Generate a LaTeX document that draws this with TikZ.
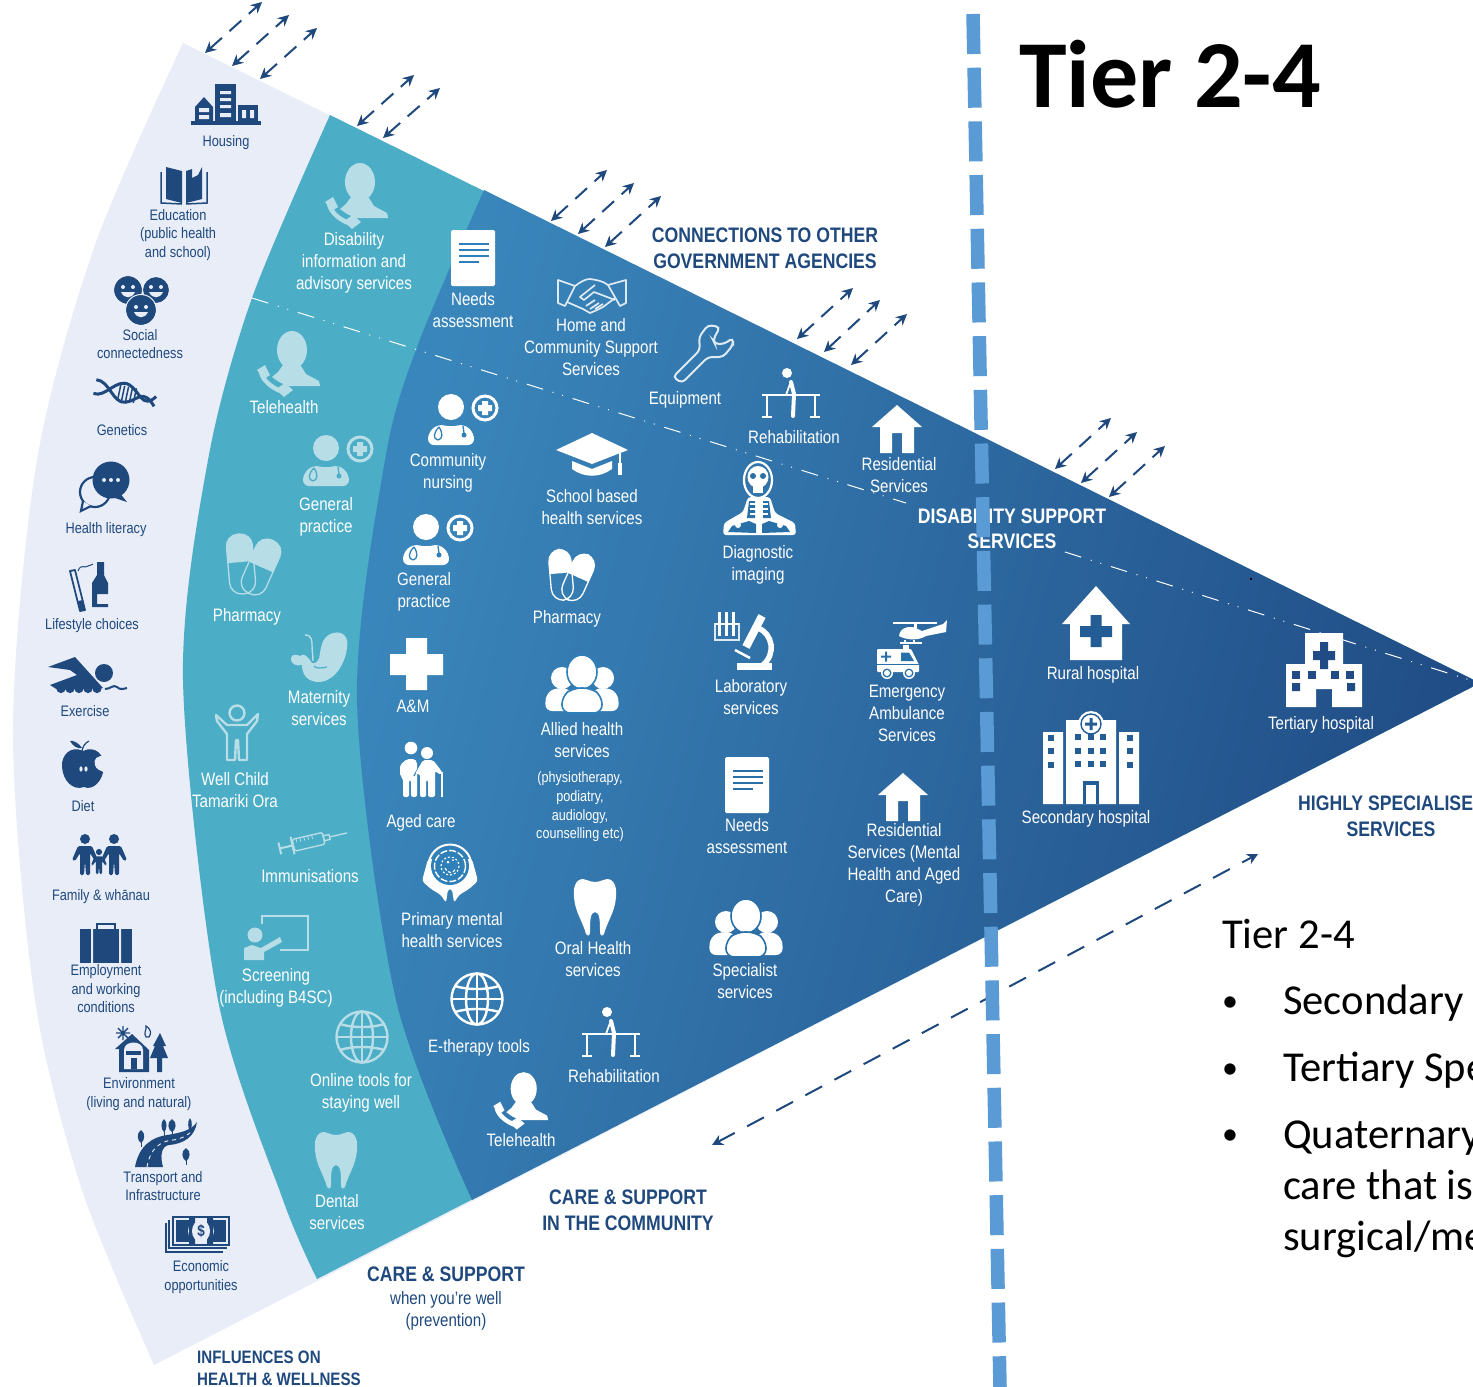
\documentclass[tikz,border=0pt]{standalone}
\usepackage{fontspec}
\usetikzlibrary{arrows.meta}
\newfontfamily\nar[FakeStretch=0.84]{Liberation Sans}
\newfontfamily\carl{Carlito}
\definecolor{navy}{HTML}{1F497D}
\definecolor{lite}{HTML}{E8EDF8}
\definecolor{teal}{HTML}{4BADC6}
\definecolor{pale}{HTML}{B7DDE7}
\definecolor{blA}{HTML}{2F80B8}
\definecolor{blB}{HTML}{2A70A8}
\definecolor{blC}{HTML}{245C95}
\definecolor{blD}{HTML}{204B84}
\definecolor{tierline}{HTML}{5B9BD5}
\colorlet{softw}{white!85!blB}
\tikzset{
 wt/.style={inner sep=0pt,align=center,text=white,font=\nar\fontsize{18}{22}\selectfont},
 wts/.style={inner sep=0pt,align=center,text=white,font=\nar\fontsize{15}{18.6}\selectfont},
 wtb/.style={inner sep=0pt,align=center,text=white,font=\nar\bfseries\fontsize{21}{25}\selectfont},
 nv/.style={inner sep=0pt,align=center,text=navy,font=\nar\fontsize{15.2}{18.5}\selectfont},
 nvm/.style={inner sep=0pt,align=center,text=navy,font=\nar\fontsize{18}{22}\selectfont},
 hd/.style={inner sep=0pt,align=center,text=navy,font=\nar\bfseries\fontsize{21}{26}\selectfont},
 hds/.style={inner sep=0pt,align=left,text=navy,font=\nar\bfseries\fontsize{18}{22}\selectfont},
 rt/.style={inner sep=0pt,anchor=base west,text=black,font=\carl\fontsize{42.6}{48}\selectfont},
 rtb/.style={inner sep=0pt,anchor=base west,text=black,font=\carl\fontsize{32}{48}\selectfont},
 dbl/.style={navy,line width=2pt,{Stealth[length=11pt,width=11pt]}-{Stealth[length=11pt,width=11pt]},dash pattern=on 16pt off 10pt},
}
% double arrow between two named free ends
\newcommand\dbl[3]{\coordinate (#1a) at (#2);\coordinate (#1b) at (#3);\draw[dbl] (#1a) -- (#1b);}
% ---------- icons
\newcommand\iPerson[3][1]{\begin{scope}[shift={(#2)},scale=#1]
 \fill[#3] (10,-13) ellipse (15 and 19);
 \fill[#3] (1,2) -- (-4,9) -- (-10,14) -- (-3,19) -- (6,23) -- (38,23) -- (37,18) -- (24,11) -- (19,3) -- cycle;
 \draw[#3,line width=4.5pt] (-21,9) .. controls (-19,18) and (-10,25) .. (1,29);
 \fill[#3] (-25,7) -- (-17,2) -- (-12,12) -- (-18,16) -- cycle;
 \fill[#3] (-6,26) -- (3,20) -- (11,27) -- (2,34) -- cycle;
\end{scope}}
\newcommand\iDoc[4][1]{\begin{scope}[shift={(#2)},scale=#1]
 \fill[#3,rounded corners=1.5pt] (-22,-28) rectangle (22,28);
 \foreach \yy/\xe in {-14/16,-8/16,-2/16,4/6}{\draw[#4,line width=2.6pt] (-14,\yy) -- (\xe,\yy);}
\end{scope}}
\newcommand\iDoctor[4][1]{\begin{scope}[shift={(#2)},scale=#1]
 \fill[#3] (0,0) circle (13);
 \fill[#3,rounded corners=6pt] (-23,38) -- (-23,26) -- (-13,17) -- (0,20) -- (13,17) -- (23,26) -- (23,38) -- cycle;
 \draw[#4,line width=1.3pt] (-12,20) .. controls (-18,26) and (-18,32) .. (-13,33) (-12,20) .. controls (-8,26) and (-8,32) .. (-13,33);
 \draw[#4,line width=1.3pt] (12,19) -- (13,26);
 \fill[#4] (13,28) circle (2.5);
 \draw[#3,line width=3pt] (34,1) circle (12);
 \fill[#3] (31,-6) rectangle (37,8) (27,-2) rectangle (41,4);
\end{scope}}
\newcommand\iPills[3][1]{\begin{scope}[shift={(#2)},scale=#1]
 \begin{scope}[shift={(6,4)},rotate=-24]
  \draw[#3,line width=1.3pt,rounded corners=12pt] (-13,-29) rectangle (13,29);
  \fill[#3,rounded corners=12pt] (-13,-29) rectangle (13,0);
  \fill[#3] (-13,-14) rectangle (13,0);
 \end{scope}
 \begin{scope}[shift={(-14,1)},rotate=5]
  \draw[#3,line width=1.3pt,rounded corners=12pt] (-13,-30) rectangle (13,30);
  \fill[#3,rounded corners=12pt] (-13,-30) rectangle (13,-2);
  \fill[#3] (-13,-16) rectangle (13,-2);
 \end{scope}
\end{scope}}
\newcommand\iGlobe[3][1]{\begin{scope}[shift={(#2)},scale=#1,line width=2.4pt]
 \draw[#3] (0,0) circle (25.5);
 \draw[#3] (0,0) ellipse (11 and 25.5);
 \draw[#3] (0,-25.5) -- (0,25.5) (-25.5,0) -- (25.5,0);
 \draw[#3] (-22,-13) .. controls (-10,-9) and (10,-9) .. (22,-13);
 \draw[#3] (-22,13) .. controls (-10,9) and (10,9) .. (22,13);
\end{scope}}
\newcommand\iTooth[3][1]{\begin{scope}[shift={(#2)},scale=#1]
 \fill[#3] (0,-25) .. controls (6,-25) and (8,-28) .. (12,-28) .. controls (20,-28) and (22,-18) .. (21,-10) .. controls (20,5) and (12,15) .. (9,27) .. controls (7,30) and (5,28) .. (5,25) .. controls (5,15) and (5,5) .. (0,5) .. controls (-5,5) and (-5,15) .. (-5,25) .. controls (-5,28) and (-7,30) .. (-9,27) .. controls (-12,15) and (-20,5) .. (-21,-10) .. controls (-22,-18) and (-20,-28) .. (-12,-28) .. controls (-8,-28) and (-6,-25) .. cycle;
\end{scope}}
\newcommand\iHouse[3][1]{\begin{scope}[shift={(#2)},scale=#1]
 \fill[#3] (0,-24) -- (25,-2) -- (17,-2) -- (17,24) -- (5,24) -- (5,4) -- (-5,4) -- (-5,24) -- (-17,24) -- (-17,-2) -- (-25,-2) -- cycle;
\end{scope}}
\newcommand\iRehab[3][1]{\begin{scope}[shift={(#2)},scale=#1]
 \draw[#3,line width=1.8pt] (-29,1) -- (29,1) (-24,1) -- (-24,23) (24,1) -- (24,23) (-29,23) -- (-19,23) (19,23) -- (29,23);
 \fill[#3] (-4,-21) circle (5);
 \draw[#3,line width=4pt,line cap=round] (0,-12) -- (3,0) -- (2,22);
 \draw[#3,line width=1.8pt,line cap=round] (-1,-10) -- (-5,1);
\end{scope}}
\newcommand\iGroup[4][1]{\begin{scope}[shift={(#2)},scale=#1]
 \fill[#3] (-20,-6) circle (11) (21,-6) circle (11);
 \fill[#3,rounded corners=7pt] (-37,27) -- (-36,9) -- (-24,3) -- (-10,6) -- (-10,27) -- cycle;
 \fill[#3,rounded corners=7pt] (37,27) -- (36,9) -- (24,3) -- (10,6) -- (10,27) -- cycle;
 \draw[#4,line width=1.6pt,fill=#3] (0,-12) ellipse (15 and 17);
 \draw[#4,line width=1.6pt,fill=#3,rounded corners=8pt] (-20,29) -- (-20,12) -- (-9,4) -- (9,4) -- (20,12) -- (20,29) -- cycle;
\end{scope}}
\begin{document}
\begin{tikzpicture}[x=1pt,y=-1pt]
\useasboundingbox (0,0) rectangle (1473,1387);
\fill[white] (0,0) rectangle (1473,1387);
\coordinate (apex) at (1480,683);
\begin{scope}
\clip (0,0) rectangle (1473,1387);
\fill[lite] plot[smooth] coordinates {(183,43) (95,245) (37,460) (13,730) (35,1000) (82,1190) (154,1365)} -- (apex) -- cycle;
\fill[teal] plot[smooth] coordinates {(330,115) (252,298) (208,460) (183,680) (218,1000) (283,1200) (317,1279)} -- (apex) -- cycle;
\shade[left color=blA!95!white,right color=blD,shading angle=75] plot[smooth] coordinates {(484,190) (417,347) (385,460) (357,700) (396,1000) (472,1200)} -- (apex) -- cycle;
\end{scope}
% dash-dot divider
\coordinate (dA) at (252,298);\coordinate (dB) at (906,503);\coordinate (dC) at (1065,552);\coordinate (dD) at (1473,681);
\draw[white,line width=1pt,dash pattern=on 17pt off 10pt on 1pt off 9pt on 1pt off 10pt] (dA) -- (dB);
\draw[white,line width=1pt,dash pattern=on 17pt off 10pt on 1pt off 9pt on 1pt off 10pt] (dC) -- (dD);
\fill[black] (1250,578) rectangle (1251.5,579.5);
% arrows
\dbl{p1}{205,53}{262,2}\dbl{p2}{232,66}{289,15}\dbl{p3}{260,79}{317,28}
\dbl{p4}{357,126}{414,75}\dbl{p5}{383,138}{440,88}
\dbl{p6}{551,221}{607,170}\dbl{p7}{578,234}{634,183}\dbl{p8}{605,247}{661,196}
\dbl{p9}{797,339}{853,288}\dbl{p10}{824,352}{880,300}\dbl{p11}{851,365}{907,314}
\dbl{p12}{1055,469}{1111,418}\dbl{p13}{1081,483}{1137,432}\dbl{p14}{1109,497}{1165,446}
\coordinate (qa) at (712,1145);\coordinate (qb) at (1258,854);
\draw[dbl,dash pattern=on 19pt off 14pt] (qa) -- (qb);
% ---------- navy icons
% housing
\begin{scope}[shift={(226,104)}]
 \fill[navy] (-35,17) rectangle (35,21);
 \fill[navy] (-31,17) -- (-31,3) -- (-22,-7) -- (-13,3) -- (-13,17) -- cycle;
 \fill[navy] (-11,17) rectangle (10,-20);
 \fill[navy] (12,17) rectangle (32,1);
 \fill[lite] (-27,4) rectangle (-17,8) (-27,11) rectangle (-17,15);
 \fill[lite] (-6,-13) rectangle (5,-10) (-6,-6) rectangle (5,-3) (-6,1) rectangle (5,4) (-6,9) rectangle (5,13);
 \fill[lite] (16,6) rectangle (20,14) (24,6) rectangle (28,14);
\end{scope}
% book
\begin{scope}[shift={(184,186)}]
 \fill[navy] (-18,-19) -- (-2,-15) -- (-2,17) -- (-18,13) -- cycle;
 \fill[navy] (2,-15) -- (8,-17) -- (8,-8) -- (14,-11) -- (18,-19) -- (18,13) -- (2,17) -- cycle;
 \draw[navy,line width=1.5pt] (-23,-14) -- (-23,17) -- (-2,18) (23,-14) -- (23,17) -- (2,18);
\end{scope}
% faces
\begin{scope}[shift={(141,300)}]
 \foreach \cx/\cy/\rr in {-13/-10/14,15/-10/13,0/10/15}{
  \fill[navy] (\cx,\cy) circle (\rr);
  \fill[lite] (\cx-5,\cy-3) circle (2) (\cx+5,\cy-3) circle (2);
  \fill[lite] (\cx-7,\cy+2) .. controls (\cx-4,\cy+9) and (\cx+4,\cy+9) .. (\cx+7,\cy+2) -- cycle;
  \draw[lite,line width=1pt] (\cx,\cy) circle (\rr+.5);
 }
\end{scope}
% dna
\begin{scope}[shift={(125,394)},rotate=-12]
 \draw[navy,line width=3pt] (-31,-8) .. controls (-18,-10) and (-10,12) .. (2,8) .. controls (14,4) and (16,-10) .. (31,6);
 \draw[navy,line width=3pt] (-31,6) .. controls (-18,8) and (-12,-14) .. (2,-10) .. controls (14,-6) and (20,12) .. (31,-4);
 \foreach \xx in {-6,-2,2,6,10}{\draw[navy,line width=1.5pt] (\xx,-8) -- (\xx,7);}
\end{scope}
% bubbles
\begin{scope}[shift={(105,487)}]
 \draw[navy,line width=2.2pt] (-10,5) circle (15);
 \draw[navy,line width=2.2pt,fill=lite] (-22,14) -- (-24,24) -- (-14,19);
 \fill[navy] (6,-7) circle (18.5);
 \fill[navy] (14,5) -- (22,15) -- (4,9) -- cycle;
 \fill[lite] (-1,-7) circle (2) (6,-7) circle (2) (13,-7) circle (2);
\end{scope}
% lifestyle
\begin{scope}[shift={(90,587)}]
 \fill[navy] (7,-25) -- (14,-25) -- (14,-12) -- (18,-4) -- (18,7) -- (7,7) -- (7,17) -- (18,17) -- (18,20) -- (2,20) -- (2,-4) -- (7,-12) -- cycle;
 \draw[navy,line width=1.8pt,line join=round] (-20,-16) -- (-10,24) -- (-5,23) -- (-15,-17) -- cycle;
 \fill[navy] (-12,14) -- (-10,24) -- (-5,23) -- (-7,13) -- cycle;
 \draw[navy,line width=1pt] (-12,-16) .. controls (-9,-24) and (-5,-18) .. (-2,-21) .. controls (0,-23) and (2,-21) .. (3,-23);
\end{scope}
% swimmer
\begin{scope}[shift={(87,676)}]
 \fill[navy] (17,-3) circle (9);
 \fill[navy] (-39,-9) -- (-12,-19) -- (16,12) -- (-29,14) -- (-37,9) -- (-10,-1) -- (-17,-6) -- cycle;
 \foreach \xx in {-26,-17,-8,1,10}{\fill[navy] (\xx,12.5) circle (4.6);}
 \draw[navy,line width=2pt] (18,13) .. controls (24,13) and (26,8) .. (30,11) .. controls (33,14) and (36,13) .. (40,12);
\end{scope}
% apple
\begin{scope}[shift={(83,767)}]
 \fill[navy] (0,-16) .. controls (12,-22) and (22,-12) .. (21,0) .. controls (20,14) and (10,24) .. (1,20) .. controls (-10,24) and (-20,14) .. (-21,0) .. controls (-22,-12) and (-12,-22) .. (0,-16);
 \fill[navy] (-1,-19) .. controls (-4,-24) and (-10,-27) .. (-13,-26) .. controls (-10,-21) and (-6,-18) .. (-1,-19);
 \draw[navy,line width=1.2pt] (-1,-16) .. controls (0,-21) and (2,-24) .. (6,-26);
 \fill[lite] (23,-11) .. controls (14,-12) and (10,-8) .. (12,-2) .. controls (13,2) and (16,3) .. (23,6) -- cycle;
 \fill[lite] (-2,2) ellipse (1.6 and 2.6) (3,2) ellipse (1.6 and 2.6);
\end{scope}
% family
\begin{scope}[shift={(100,855)}]
 \foreach \xx/\yy/\ss in {-15/-16/1,14/-16/1,-1/-3/.62}{
 \begin{scope}[shift={(\xx,\yy)},scale=\ss]
  \fill[navy] (0,0) circle (5);
  \fill[navy,rounded corners=1.5pt] (-7,7) -- (7,7) -- (13,21) -- (10,22) -- (5,14) -- (5,36) -- (1,36) -- (0,22) -- (-1,36) -- (-5,36) -- (-5,14) -- (-10,22) -- (-13,21) -- cycle;
 \end{scope}}
\end{scope}
% briefcase
\begin{scope}[shift={(106,944)}]
 \fill[navy] (-26,-15) rectangle (26,19);
 \draw[navy,line width=2.5pt] (-9,-15) -- (-9,-20) -- (9,-20) -- (9,-15);
 \fill[lite] (-15,-15) rectangle (-13,19) (13,-15) rectangle (15,19);
\end{scope}
% environment
\begin{scope}[shift={(140,1050)}]
 \fill[navy] (-25,-1) -- (-8,-16) -- (9,0) -- (9,22) -- (-21,22) -- (-21,-1) -- cycle;
 \fill[lite] (-16,0) .. controls (-16,-10) and (3,-10) .. (3,0) -- (3,19) -- (-16,19) -- cycle;
 \fill[navy] (-14,1) rectangle (1,5);
 \fill[navy] (-9,8) rectangle (-3,19);
 \fill[navy] (20,-17) -- (26,-4) -- (23,-4) -- (28,8) -- (22,8) -- (22,22) -- (17,22) -- (17,8) -- (10,8) -- (15,-4) -- (13,-4) -- cycle;
 \draw[navy,line width=1.4pt] (-22,-22) -- (-12,-12) (-12,-22) -- (-22,-12) (-17,-24) -- (-17,-10) (-24,-17) -- (-10,-17);
 \draw[navy,line width=1.2pt] (6,-13) .. controls (3,-17) and (7,-20) .. (6,-24) .. controls (12,-20) and (11,-16) .. (9,-13) -- cycle;
\end{scope}
% road
\begin{scope}[shift={(165,1145)}]
 \fill[navy] (-30,22) .. controls (-26,0) and (-12,-8) .. (2,-10) .. controls (14,-12) and (26,-14) .. (32,-23) .. controls (30,-8) and (18,-1) .. (4,0) .. controls (-4,1) and (-5,12) .. (-2,22) -- cycle;
 \draw[lite,line width=.9pt,dash pattern=on 4pt off 4pt] (-18,22) .. controls (-15,4) and (-5,-4) .. (8,-5) .. controls (16,-6) and (22,-9) .. (28,-15);
 \foreach \xx/\yy/\rr in {-24/-9/3.6,-1/-20/2.8,7/-20/4,25/-21/2,21/9/4}{
  \fill[navy] (\xx,\yy-6) .. controls (\xx+\rr*1.4,\yy-3) and (\xx+\rr,\yy+5) .. (\xx,\yy+7) .. controls (\xx-\rr,\yy+5) and (\xx-\rr*1.4,\yy-3) .. (\xx,\yy-6);
  \draw[navy,line width=.8pt] (\xx,\yy+5) -- (\xx,\yy+11);
 }
\end{scope}
% money
\begin{scope}[shift={(197,1234)}]
 \draw[navy,line width=1.6pt] (-31,-11) -- (-31,18) -- (26,18) (-28,-14) -- (-28,14) -- (30,14);
 \draw[navy,line width=1.8pt] (-24,-17) rectangle (32,11);
 \fill[navy] (-21,-14) rectangle (29,8);
 \fill[lite] (4,-3) ellipse (13 and 13);
 \fill[navy] (-2,-16) rectangle (-8,10) (10,-16) rectangle (16,10);
 \fill[lite] (4,-3) ellipse (9 and 11);
 \node[inner sep=0pt,text=navy,font=\nar\bfseries\fontsize{16}{16}\selectfont] (moneySign) at (4,-3) {\$};
\end{scope}
% ---------- pale icons on teal
\iPerson{350,195}{pale}
\iPerson{282,363}{pale}
\iDoctor{326,448}{pale}{teal}
\iPills{255,563}{pale}
% baby
\begin{scope}[shift={(320,655)}]
 \fill[pale] (6,-18) .. controls (14,-26) and (30,-24) .. (27,-8) .. controls (26,8) and (14,28) .. (-3,27) .. controls (-14,26) and (-18,18) .. (-18,10) .. controls (-24,12) and (-30,8) .. (-29,3) .. controls (-28,-2) and (-22,0) .. (-20,1) .. controls (-16,-3) and (-12,2) .. (-8,8) .. controls (-4,10) and (0,4) .. (0,-2) .. controls (1,-8) and (2,-14) .. (6,-18);
 \draw[pale,line width=1.4pt] (-15,-20) .. controls (-8,-20) and (-8,-14) .. (-8,-10) .. controls (-8,-5) and (-7,0) .. (-7,6);
 \draw[teal,line width=1.2pt] (-6,11) .. controls (-4,14) and (2,13) .. (7,12);
\end{scope}
% child outline
\begin{scope}[shift={(236,733)}]
 \draw[pale,line width=2.4pt] (1,-20) circle (7.5);
 \draw[pale,line width=2.4pt,line join=round] (-20,-18) -- (-9,-8) -- (11,-8) -- (22,-19) -- (21,-12) -- (11,1) -- (11,27) -- (3,27) -- (2,7) -- (0,7) -- (-1,27) -- (-9,27) -- (-9,1) -- (-19,-12) -- cycle;
\end{scope}
% syringe
\begin{scope}[shift={(312,841)},rotate=13]
 \draw[pale,line width=1.4pt,rounded corners=1.5pt] (-19,-6) rectangle (12,6);
 \draw[pale,line width=1.4pt] (12,-2.5) rectangle (18,2.5);
 \draw[pale,line width=1.4pt] (18,0) -- (36,0);
 \draw[pale,line width=2pt] (-19,0) -- (-33,0) (-33,-6) -- (-33,6) (-20,-9) -- (-20,9);
 \foreach \xx in {-15,-11,-7,-3,1}{\draw[pale,line width=.8pt] (\xx,-6) -- (\xx,-2);}
\end{scope}
% screening
\begin{scope}[shift={(277,937)}]
 \draw[pale,line width=1.4pt] (-15,-13) -- (-15,-21) -- (31,-21) -- (31,13) -- (3,13);
 \fill[pale] (-22,-2) circle (7.5);
 \fill[pale] (-33,23) -- (-33,11) -- (-25,8) -- (-16,11) -- (3,0) -- (5,5) -- (-13,15) -- (-13,23) -- cycle;
\end{scope}
\iGlobe{362,1037}{pale}
\iTooth{336,1160}{pale}
% ---------- white icons
\iDoc{473,258}{white}{blA}
\iDoc{747,785}{white}{blB}
% handshake
\begin{scope}[shift={(591,295)}]
 \draw[softw,line width=1.7pt,line join=round] (-33,-15) -- (-16,-9) -- (-26,11) -- (-33,8) -- cycle;
 \draw[softw,line width=1.7pt,line join=round] (35,-15) -- (17,-10) -- (29,11) -- (35,8) -- cycle;
 \draw[softw,line width=1.7pt,line join=round] (-16,-9) .. controls (-8,-15) and (-4,-16) .. (-1,-16) .. controls (6,-15) and (12,-14) .. (17,-10);
 \draw[softw,line width=1.7pt,line join=round] (4,-10) -- (-11,2) -- (-7,5) -- (3,-3) -- (24,5);
 \draw[softw,line width=1.7pt,line join=round] (-24,7) -- (-8,14) -- (-1,18) -- (6,15) -- (12,12) -- (24,3);
 \draw[softw,line width=1.7pt] (-5,11) -- (4,5) (-1,14) -- (8,8) (4,14) -- (12,9);
\end{scope}
% wrench
\begin{scope}[shift={(703,354)}]
 \draw[softw,line width=2pt,rounded corners=4pt] (-30,23) -- (-21,29) -- (5,3) -- (20,3) -- (30,-9) -- (30,-16) -- (21,-10) -- (12,-10) -- (10,-14) -- (17,-27) -- (5,-29) -- (-4,-17) -- (-3,-4) -- cycle;
\end{scope}
\iRehab{791,394}{white}
\iRehab{611,1033}{white}
\iHouse{897,429}{white}
\iHouse{903,797}{white}
\iDoctor{451,407}{white}{blA}
\iDoctor{426,527}{white}{blA}
% mortar board
\begin{scope}[shift={(592,455)}]
 \fill[white] (0,-22) -- (36,-5) -- (0,9) -- (-36,-5) -- cycle;
 \fill[white] (-20,6) -- (0,14) -- (20,6) -- (20,14) .. controls (8,23) and (-8,23) .. (-20,14) -- cycle;
 \draw[white,line width=1.2pt] (28,-2) -- (28,8);
 \fill[white] (26,8) -- (30,8) -- (30,20) -- (26,20) -- cycle;
\end{scope}
% skeleton
\begin{scope}[shift={(759,500)}]
 \draw[white,line width=2.2pt] (-1,-20) ellipse (14 and 18);
 \fill[white] (-1,-23) ellipse (10.5 and 11);
 \fill[white] (-6,-14) rectangle (4,-7);
 \fill[blB] (-6,-24) circle (3) (4,-24) circle (3);
 \fill[white,rounded corners=3pt] (-36,35) -- (-35,23) -- (-16,12) -- (-11,-3) -- (11,-3) -- (16,13) -- (36,23) -- (37,35) -- cycle;
 \fill[blB] (-31,32) -- (-27,26) -- (-10,21) -- (-3,24) -- (-3,33) -- cycle;
 \fill[blB] (31,32) -- (27,26) -- (10,21) -- (3,24) -- (3,33) -- cycle;
 \fill[blB] (-10,1) -- (-4,1) -- (-4,18) -- (-12,18) -- cycle (10,1) -- (4,1) -- (4,18) -- (12,18) -- cycle;
 \foreach \yy in {4,9,14}{\draw[white,line width=1.3pt] (-9,\yy) -- (9,\yy);}
 \fill[white] (-21,25) circle (3) (21,25) circle (3);
\end{scope}
% cross
\fill[white] (406,638) rectangle (427,690) (390,654) rectangle (443,675);
% aged
\begin{scope}[shift={(421,770)}]
 \fill[white] (-10,-22) circle (6.3) (6,-17) circle (6);
 \fill[white,rounded corners=2pt] (-18,27) -- (-18,8) -- (-21,6) -- (-21,-5) -- (-14,-11) -- (-6,-11) -- (-4,-8) -- (-4,27) -- (-10,27) -- (-10,10) -- (-12,10) -- (-12,27) -- cycle;
 \draw[blA,line width=1.2pt] (-7,6) -- (2,-11);
 \fill[white,rounded corners=2pt] (-6,4) -- (2,-10) -- (12,-10) -- (19,-1) -- (22,4) -- (20,5) -- (14,1) -- (14,27) -- (7,27) -- (7,10) -- (5,10) -- (5,27) -- (-1,27) -- (-1,4) -- cycle;
 \draw[white,line width=1.6pt] (21,2) -- (21,27);
\end{scope}
% head
\begin{scope}[shift={(450,873)}]
 \fill[white,rounded corners=3pt] (-22,-14) -- (-28,8) -- (-19,16) -- (-9,22) -- (-4,30) -- (-2,16) -- (2,16) -- (4,30) -- (9,22) -- (19,16) -- (28,8) -- (22,-14) -- cycle;
 \fill[blA] (0,-7) circle (19);
 \draw[white,line width=2pt] (0,-7) circle (21.5);
 \draw[white,line width=1.4pt,dash pattern=on 7pt off 2pt] (0,-7) circle (15.5);
 \draw[white,line width=1.1pt,dash pattern=on 2pt off 2pt] (0,-7) circle (9);
 \draw[white,line width=1.1pt,dash pattern=on 3pt off 2pt] (-5,-5) .. controls (-3,1) and (4,1) .. (6,-5);
 \fill[white] (-2,-11) circle (1.5) (3,-13) circle (1);
\end{scope}
\iPills[.85]{573,574}{white}
\iGroup{582,684}{white}{blA}
\iGroup{746,928}{white}{blB}
\iTooth{595,907}{white}
\iGlobe{477,999}{white}
\iPerson[.87]{515,1100}{white}
% microscope
\begin{scope}[shift={(743,640)}]
 \draw[softw,line width=1.6pt] (-28,-17) -- (-28,0) -- (-4,0) -- (-4,-17);
 \foreach \xx in {-24,-17,-10}{\fill[white] (\xx-1.5,-28) rectangle (\xx+1.5,-4);}
 \fill[white] (-27,-17) rectangle (-5,-15);
 \draw[white,line width=8pt] (19,-24) -- (3,7);
 \draw[white,line width=5.5pt] (15,-12) .. controls (30,-6) and (33,14) .. (20,25);
 \fill[white] (-6,23) rectangle (29,30);
 \draw[white,line width=2.5pt] (-8,10) -- (7,18);
\end{scope}
% helicopter + ambulance
\begin{scope}[shift={(908,648)}]
 \draw[white,line width=1.4pt] (-15,-25) -- (29,-25);
 \fill[white] (6,-25) rectangle (9,-20);
 \fill[white] (-9,-12) .. controls (-8,-22) and (4,-22) .. (8,-20) -- (14,-17) -- (35,-24) -- (39,-28) -- (38,-16) -- (18,-12) .. controls (12,-8) and (0,-7) .. (-9,-12);
 \draw[white,line width=1.4pt] (-8,-5) -- (14,-5) (-3,-8) -- (-3,-5) (6,-8) -- (6,-5);
 \fill[white,rounded corners=1pt] (-31,1) -- (3,1) -- (11,17) -- (11,24) -- (-31,24) -- cycle;
 \fill[blB] (-7,4.5) -- (1,4.5) -- (6,13) -- (-7,13) -- cycle;
 \fill[blB] (-27,7.5) rectangle (-17,9.5) (-23,3.5) rectangle (-21,13.5);
 \fill[blB] (-31,15.5) rectangle (11,16.5);
 \fill[white] (-21,25) circle (6) (1,25) circle (6);
 \fill[blB] (-21,25) circle (4.5) (1,25) circle (4.5);
 \fill[white] (-21,25) circle (3) (1,25) circle (3);
 \fill[white] (-5,-3) rectangle (1,1);
\end{scope}
% rural hospital
\begin{scope}[shift={(1096,623)}]
 \fill[white] (0,-37) -- (34,1) -- (26,1) -- (26,37) -- (-26,37) -- (-26,1) -- (-34,1) -- cycle;
 \fill[blC] (-5.5,-8) rectangle (5.5,24) (-16,3) rectangle (16,14);
\end{scope}
% secondary hospital
\begin{scope}[shift={(1091,757)}]
 \fill[white] (-48,-25) rectangle (-28,47) (28,-25) rectangle (48,47) (-25,-37) rectangle (25,47);
 \fill[white] (0,-33) circle (13);
 \draw[blC,line width=1.4pt] (0,-33) circle (10);
 \fill[blC] (-1.5,-39) rectangle (1.5,-27) (-6,-34.5) rectangle (6,-31.5);
 \foreach \xx in {-13,0,12}{\foreach \yy in {-20,-6,7}{\fill[blC] (\xx-3,\yy-3) rectangle (\xx+3,\yy+3);}}
 \foreach \yy in {-19,-6,8}{\fill[blC] (-43,\yy-3) rectangle (-37,\yy+3);\fill[blC] (36,\yy-3) rectangle (42,\yy+3);}
 \fill[blC] (-8,24) rectangle (8,47);
 \fill[white] (-5,28) rectangle (5,47);
\end{scope}
% tertiary hospital
\begin{scope}[shift={(1324,672)}]
 \fill[white] (-38,-8) -- (-19,-8) -- (-19,-39) -- (19,-39) -- (19,-8) -- (38,-8) -- (38,35) -- (8,35) -- (8,17) -- (-8,17) -- (-8,35) -- (-38,35) -- cycle;
 \fill[blD] (-4,-30) rectangle (4,-3) (-11,-21) rectangle (11,-12);
 \foreach \xx in {-32,-16,7,22}{\fill[blD] (\xx,-1) rectangle (\xx+8,7);}
 \fill[blD] (-32,11) rectangle (-24,19) (23,11) rectangle (31,19);
\end{scope}
% ---------- labels on the outer band
\node[nv] (tHousing) at (226,143) {Housing};
\node[nv] (tEdu) at (178,235) {Education\\(public health\\and school)};
\node[nv] (tSocial) at (140,344) {Social\\connectedness};
\node[nv] (tGen) at (122,430) {Genetics};
\node[nv] (tLit) at (106,530) {Health literacy};
\node[nv] (tLife) at (92,626) {Lifestyle choices};
\node[nv] (tEx) at (85,711) {Exercise};
\node[nv] (tDiet) at (83,806) {Diet};
\node[nv] (tFam) at (101,897) {Family \& whānau};
\node[nv] (tEmp) at (106,989) {Employment\\and working\\conditions};
\node[nv] (tEnv) at (139,1094) {Environment\\(living and natural)};
\node[nv] (tTra) at (163,1186) {Transport and\\Infrastructure};
\node[nv] (tEco) at (201,1277) {Economic\\opportunities};
% ---------- teal band labels
\node[wt] (tDis) at (354,263) {Disability\\information and\\advisory services};
\node[wt] (tTele) at (284,407) {Telehealth};
\node[wt] (tGP) at (326,517) {General\\practice};
\node[wt] (tPh) at (247,617) {Pharmacy};
\node[wt] (tMat) at (319,708) {Maternity\\services};
\node[wt] (tWell) at (235,790) {Well Child\\Tamariki Ora};
\node[wt] (tImm) at (310,876) {Immunisations};
\node[wt] (tScr) at (276,988) {Screening\\(including B4SC)};
\node[wt] (tOn) at (361,1093) {Online tools for\\staying well};
\node[wt] (tDen) at (337,1212) {Dental\\services};
% ---------- blue band labels
\node[wt] (tNeed) at (473,310) {Needs\\assessment};
\node[wt] (tHome) at (591,347) {Home and\\Community Support\\Services};
\node[wt] (tEq) at (685,400) {Equipment};
\node[wt] (tReh) at (794,437) {Rehabilitation};
\node[wt] (tRes) at (899,475) {Residential\\Services};
\node[wt] (tCN) at (448,473) {Community\\nursing};
\node[wt] (tGP2) at (424,592) {General\\practice};
\node[wt] (tAM) at (413,706) {A\&M};
\node[wt] (tAged) at (421,823) {Aged care};
\node[wt] (tPM) at (452,930) {Primary mental\\health services};
\node[wt] (tET) at (479,1048) {E-therapy tools};
\node[wt] (tTele2) at (521,1140) {Telehealth};
\node[wt] (tSch) at (592,507) {School based\\health services};
\node[wt] (tPh2) at (567,619) {Pharmacy};
\node[wt] (tAll) at (582,740) {Allied health\\services};
\node[wts] (tAll2) at (580,807) {(physiotherapy,\\podiatry,\\audiology,\\counselling etc)};
\node[wt] (tOral) at (593,959) {Oral Health\\services};
\node[wt] (tReh2) at (614,1076) {Rehabilitation};
\node[wt] (tDia) at (758,565) {Diagnostic\\imaging};
\node[wt] (tLab) at (751,697) {Laboratory\\services};
\node[wt] (tNeed2) at (747,836) {Needs\\assessment};
\node[wt] (tSpe) at (745,981) {Specialist\\services};
\node[wt] (tEm) at (907,713) {Emergency\\Ambulance\\Services};
\node[wt] (tRes2) at (904,865) {Residential\\Services (Mental\\Health and Aged\\Care)};
\node[wt] (tRur) at (1093,675) {Rural hospital};
\node[wt] (tSec) at (1086,819) {Secondary hospital};
\node[wt] (tTer) at (1321,725) {Tertiary hospital};
\node[wtb] (tDSS) at (1012,529) {DISABILITY SUPPORT\\SERVICES};
% ---------- headings
\node[hd] (hConn) at (765,248) {CONNECTIONS TO OTHER\\GOVERNMENT AGENCIES};
\node[hd,anchor=west] (hHighA) at (1298,803) {HIGHLY SPECIALISE};
\node[hd] (hHighB) at (1391,829) {SERVICES};
\node[hd] (hComm) at (628,1210) {CARE \& SUPPORT\\IN THE COMMUNITY};
\node[hd] (hWell) at (446,1274) {CARE \& SUPPORT};
\node[nvm] (hPrev) at (446,1311) {when you’re well\\(prevention)};
\node[hds,anchor=north west] (hInf) at (197,1351) {INFLUENCES ON\\HEALTH \& WELLNESS};
% ---------- tier divider
\coordinate (tA) at (973,14);\coordinate (tB) at (1000,1387);
\draw[tierline,line width=13.5pt,dash pattern=on 40pt off 13.7pt] (tA) -- (tB);
% ---------- right side text
\node[inner sep=0pt,text=black,font=\carl\bfseries\fontsize{96}{96}\selectfont] (tTitle) at (1170,74) {Tier 2-4};
\node[rt] (r0) at (1222,948) {Tier 2-4};
\node[rtb] (b1) at (1222,1011) {•};
\node[rt] (r1) at (1283,1014) {Secondary};
\node[rtb] (b2) at (1222,1078) {•};
\node[rt] (r2) at (1283,1081) {Tertiary Spe};
\node[rtb] (b3) at (1222,1144) {•};
\node[rt] (r3) at (1283,1148) {Quaternary};
\node[rt] (r4) at (1283,1199) {care that is};
\node[rt] (r5) at (1283,1250) {surgical/me};
\end{tikzpicture}
\end{document}
